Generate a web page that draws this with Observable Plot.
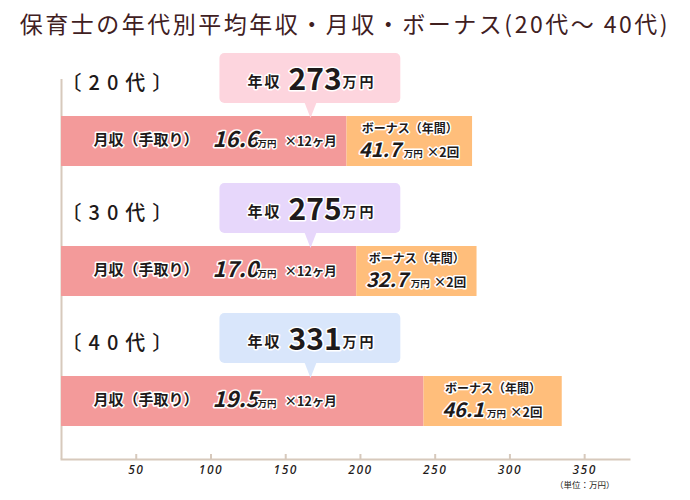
<!DOCTYPE html>
<html><head><meta charset="utf-8">
<script src="https://cdn.jsdelivr.net/npm/d3@7"></script>
<script src="https://cdn.jsdelivr.net/npm/@observablehq/plot@0.6"></script>
<style>
html,body{margin:0;padding:0;background:#fff;}
#title{height:44px;box-sizing:border-box;padding-top:7px;line-height:32px;text-align:center;font-family:"Noto Sans CJK JP";font-size:23px;letter-spacing:2.5px;color:#40201f;font-weight:400;white-space:nowrap;}
g[aria-description="age label"] text{letter-spacing:7px;}
g[aria-description="callout word"] text{letter-spacing:2px;}
g[aria-description="callout unit"] text{letter-spacing:3px;}
g[aria-label="x-axis tick label"] text{font-style:italic;letter-spacing:1.5px;}
</style></head>
<body>
<div id="title">保育士の年代別平均年収・月収・ボーナス(20代～ 40代)</div>
<div id="chart"></div>
<script>
// ---- data (万円) ----
const ages = ["20代", "30代", "40代"];
const monthlyPay = [16.6, 17.0, 19.5];        // 月収(手取り) 万円
const bonusPay = [41.7, 32.7, 46.1];          // ボーナス 1回 万円
const annualIncome = [273, 275, 331];         // 年収 万円
const monthlyBarEnd = [191, 197.5, 242.5];    // pink segment end
const annualBarEnd = [275, 278, 335];         // orange segment end
const xTicks = [50, 100, 150, 200, 250, 300, 350];

// ---- styles ----
const PINK = "#f39a9a", ORANGE = "#ffbe7b", AXIS = "#d7c9bc", INK = "#1e1a1a";
const calloutFill = {"20代": "#fdd5de", "30代": "#e7d7fb", "40代": "#d9e6fb"};
const FONT = "Noto Sans CJK JP";
const halo = {stroke: "white", strokeWidth: 3, paintOrder: "stroke", strokeLinejoin: "round", fill: INK};

const rows = ages.map((age, i) => ({
  age, monthly: monthlyPay[i], bonus: bonusPay[i], annual: annualIncome[i],
  monthlyEnd: monthlyBarEnd[i], annualEnd: annualBarEnd[i]
}));
const mid = d => (d.monthlyEnd + d.annualEnd) / 2;

const CALLOUT_X1 = 106, CALLOUT_X2 = 227, POINTER_X = 166.6;
const downTriangle = {
  draw(context, size) {
    const s = Math.sqrt(size / Math.PI);
    context.moveTo(-s, -1);
    context.lineTo(s, -1);
    context.lineTo(0, s * 2.4);
    context.closePath();
  }
};

const chart = Plot.plot({
  width: 690, height: 456,
  marginLeft: 61, marginRight: 61, marginTop: 35, marginBottom: 41,
  x: {domain: [0, 380]},
  y: {type: "band", domain: ages, range: [9, 399], padding: 0, axis: null},
  color: {type: "identity"},
  style: {fontFamily: FONT, color: INK, background: "white", overflow: "visible"},
  marks: [
    Plot.ruleX([0], {stroke: AXIS, strokeWidth: 2}),
    Plot.frame({anchor: "bottom", stroke: AXIS, strokeWidth: 2}),
    Plot.tickX(xTicks, {x: d => d, insetTop: 375, stroke: AXIS, strokeWidth: 2}),
    Plot.axisX({ticks: xTicks, tickSize: 0, tickPadding: 6, fontSize: 12, fontWeight: 500, label: null, fill: INK, fontFamily: "Noto Sans"}),
    Plot.text(["（単位：万円）"], {x: 350, frameAnchor: "bottom", dy: 28, fontSize: 8.5, fill: INK, text: d => d}),

    // bars
    Plot.barX(rows, {y: "age", x1: 0, x2: "monthlyEnd", fill: PINK, insetTop: 63, insetBottom: 17}),
    Plot.barX(rows, {y: "age", x1: "monthlyEnd", x2: "annualEnd", fill: ORANGE, insetTop: 63, insetBottom: 17}),

    // callouts
    Plot.barX(rows, {y: "age", x1: CALLOUT_X1, x2: CALLOUT_X2, fill: d => calloutFill[d.age], insetBottom: 80, rx: 5}),
    Plot.dot(rows, {y: "age", x: POINTER_X, symbol: downTriangle, r: 6, fill: d => calloutFill[d.age], stroke: null, dy: -15}),
    Plot.text(rows, {y: "age", x: POINTER_X, text: () => "年収", dx: -63, dy: -36, textAnchor: "start", fontSize: 15, fontWeight: 700, ariaDescription: "callout word", ...halo}),
    Plot.text(rows, {y: "age", x: POINTER_X, text: d => String(d.annual), dx: -22, dy: -38, textAnchor: "start", fontSize: 30, fontWeight: 700, ...halo}),
    Plot.text(rows, {y: "age", x: POINTER_X, text: () => "万円", dx: 32, dy: -35.5, textAnchor: "start", fontSize: 14, fontWeight: 700, ariaDescription: "callout unit", ...halo}),

    // age labels
    Plot.text(rows, {y: "age", x: 0, text: d => "〔" + d.age + "〕", dx: 0, dy: -35, textAnchor: "start", fontSize: 20, fontWeight: 500, ariaDescription: "age label", fill: INK}),

    // monthly text
    Plot.text(rows, {y: "age", x: 0, text: () => "月収（手取り）", dx: 32, dy: 22, textAnchor: "start", fontSize: 15, fontWeight: 700, ...halo}),
    Plot.text(rows, {y: "age", x: 0, text: d => d.monthly.toFixed(1), dx: 151, dy: 21, textAnchor: "start", fontSize: 22, fontWeight: 700, fontStyle: "italic", ...halo}),
    Plot.text(rows, {y: "age", x: 0, text: () => "万円", dx: 196, dy: 25, textAnchor: "start", fontSize: 9.5, fontWeight: 700, ...halo}),
    Plot.text(rows, {y: "age", x: 0, text: () => "×12ヶ月", dx: 223, dy: 23, textAnchor: "start", fontSize: 12.5, fontWeight: 700, ...halo}),

    // bonus text
    Plot.text(rows, {y: "age", x: mid, text: () => "ボーナス（年間）", dy: 11, fontSize: 12, fontWeight: 700, ...halo}),
    Plot.text(rows, {y: "age", x: mid, text: d => d.bonus.toFixed(1), dx: -9, dy: 32, textAnchor: "end", fontSize: 20, fontWeight: 700, fontStyle: "italic", ...halo}),
    Plot.text(rows, {y: "age", x: mid, text: () => "万円", dx: -6, dy: 35.5, textAnchor: "start", fontSize: 9.5, fontWeight: 700, ...halo}),
    Plot.text(rows, {y: "age", x: mid, text: () => "×2回", dx: 17, dy: 34, textAnchor: "start", fontSize: 12.5, fontWeight: 700, ...halo})
  ]
});
document.getElementById("chart").appendChild(chart);
</script>
</body></html>
